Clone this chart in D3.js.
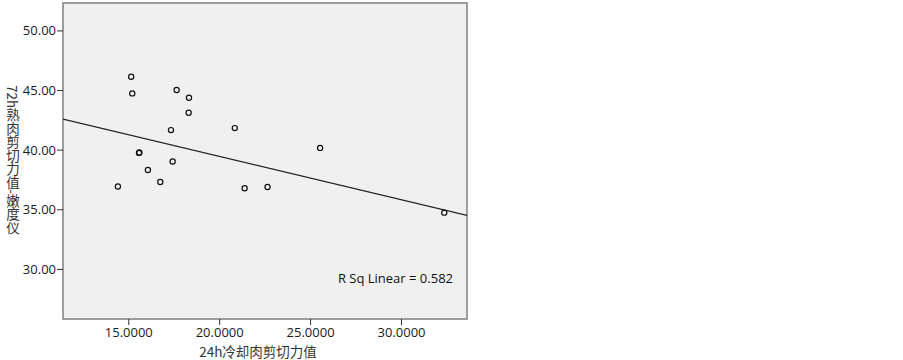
<!DOCTYPE html>
<html>
<head>
<meta charset="utf-8">
<script src="https://cdn.jsdelivr.net/npm/d3@7"></script>
<style>
  body { margin: 0; background: #fff; }
  text { font-family: "Open Sans", "DejaVu Sans", sans-serif; }
</style>
</head>
<body>
<div id="chart"></div>
<script>
/* -----------------------
data
------------------------- */

var shear24 = [15.16, 15.22, 17.66, 18.34, 18.32, 17.35, 20.86, 15.59, 15.61, 17.44,
               16.08, 14.43, 16.76, 21.40, 22.66, 25.55, 32.38];
var shear72 = [46.12, 44.72, 45.00, 44.35, 43.09, 41.64, 41.81, 39.73, 39.76, 39.01,
               38.30, 36.91, 37.29, 36.76, 36.87, 40.15, 34.72];

var xTicks = [15, 20, 25, 30];
var yTicks = [30, 35, 40, 45, 50];

// fitted line
var fitIntercept = 46.70,
    fitSlope = -0.363;
var rSq = 0.582;

var xLabel = '24h冷却肉剪切力值',
    yLabel = '72h熟肉剪切力值-嫩度仪';

/* -----------------------
set plot
------------------------- */

var width = 903, height = 360;
var box = {left: 63, right: 467, top: 3, bottom: 319};

var x = d3.scaleLinear().domain([11.41, 33.63]).range([box.left, box.right]);
var y = d3.scaleLinear().domain([25.8, 52.3]).range([box.bottom, box.top]);

var svg = d3.select('#chart')
  .append('svg')
  .attr('width', width)
  .attr('height', height);

// plot frame
svg.append('rect')
  .attr('x', box.left)
  .attr('y', box.top)
  .attr('width', box.right - box.left)
  .attr('height', box.bottom - box.top)
  .attr('fill', '#f0f0f0')
  .attr('stroke', '#7f7f7f')
  .attr('stroke-width', 1.5);

// axes
var xAxis = svg.append('g')
  .attr('transform', 'translate(0,' + box.bottom + ')')
  .call(d3.axisBottom(x).tickValues(xTicks).tickSize(6).tickFormat(d3.format('.4f')));

var yAxis = svg.append('g')
  .attr('transform', 'translate(' + box.left + ',0)')
  .call(d3.axisLeft(y).tickValues(yTicks).tickSize(6).tickFormat(d3.format('.2f')));

[xAxis, yAxis].forEach(function (a) {
  a.select('.domain').remove();
  a.selectAll('line').attr('stroke', '#333');
  a.selectAll('text')
    .attr('fill', '#1a1a1a')
    .style('font-size', '13px')
    .style('font-family', '"Open Sans", "DejaVu Sans", sans-serif');
});
xAxis.selectAll('text').attr('y', 7).attr('dy', '0.85em');
yAxis.selectAll('text').attr('x', -7).attr('dy', '0.35em');

/* -----------------------
fit line
------------------------- */

svg.append('clipPath').attr('id', 'clip')
  .append('rect')
  .attr('x', box.left).attr('y', box.top)
  .attr('width', box.right - box.left).attr('height', box.bottom - box.top);

var xs = x.domain();
svg.append('line')
  .attr('clip-path', 'url(#clip)')
  .attr('x1', x(xs[0]))
  .attr('y1', y(fitIntercept + fitSlope * xs[0]))
  .attr('x2', x(xs[1]))
  .attr('y2', y(fitIntercept + fitSlope * xs[1]))
  .attr('stroke', '#222')
  .attr('stroke-width', 1.3);

/* -----------------------
points
------------------------- */

svg.selectAll('.pt')
  .data(shear24)
  .enter()
  .append('circle')
  .attr('class', 'pt')
  .attr('cx', function (d) { return x(d); })
  .attr('cy', function (d, i) { return y(shear72[i]); })
  .attr('r', 2.6)
  .attr('fill', 'none')
  .attr('stroke', '#111')
  .attr('stroke-width', 1.2);

svg.append('text')
  .attr('x', 453)
  .attr('y', 283)
  .attr('text-anchor', 'end')
  .attr('fill', '#111')
  .style('font-size', '13px')
  .text('R Sq Linear = ' + rSq.toFixed(3));

/* -----------------------
axis titles
------------------------- */

svg.append('text')
  .attr('x', 258)
  .attr('y', 357)
  .attr('text-anchor', 'middle')
  .attr('fill', '#333')
  .style('font-size', '13.5px')
  .style('font-family', '"Noto Sans CJK SC", sans-serif')
  .text(xLabel);

svg.append('text')
  .attr('x', 13)
  .attr('y', 85)
  .attr('fill', '#333')
  .style('font-size', '13.5px')
  .style('font-family', '"Noto Sans CJK SC", sans-serif')
  .style('writing-mode', 'vertical-rl')
  .style('text-orientation', 'mixed')
  .text(yLabel);
</script>
</body>
</html>
